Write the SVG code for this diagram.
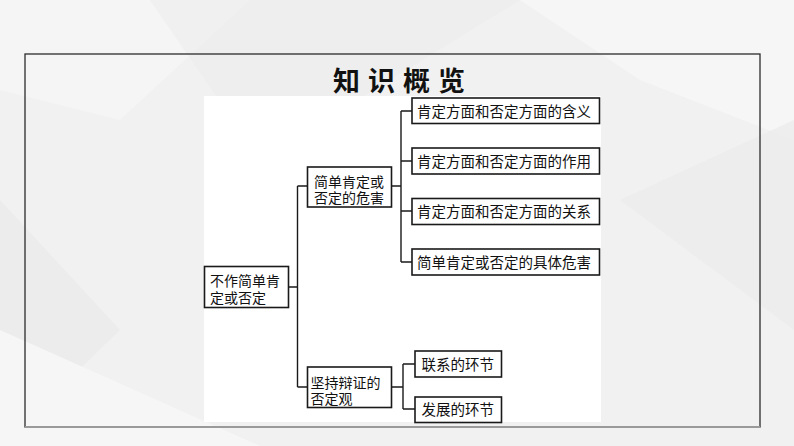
<svg xmlns="http://www.w3.org/2000/svg" width="794" height="446" viewBox="0 0 794 446">
<style>
.bx{fill:#fff;stroke:#1a1a1a;stroke-width:1.6}
.t{font-family:"Liberation Serif","Noto Sans CJK SC",serif;font-size:14.5px;fill:#111}
.t2{font-family:"Liberation Serif","Noto Sans CJK SC",serif;font-size:14px;fill:#111}
.ln{fill:none;stroke:#1a1a1a;stroke-width:1.4}
</style>
<rect x="0" y="0" width="794" height="446" fill="#f1f1f1"/>
<polygon points="0,0 250,0 120,120 0,90" fill="#f5f5f5"/>
<polygon points="150,0 520,0 260,160" fill="#ececec" opacity="0.6"/>
<polygon points="520,0 794,0 794,140 640,80" fill="#f6f6f6"/>
<polygon points="0,200 120,330 0,446" fill="#e9e9e9" opacity="0.7"/>
<polygon points="620,200 794,120 794,330" fill="#ebebeb" opacity="0.7"/>
<polygon points="0,330 260,446 0,446" fill="#f6f6f6"/>
<rect x="25" y="54" width="735" height="373" fill="none" stroke="#2b2b2b" stroke-width="1.3"/>
<line x1="25" y1="427" x2="760" y2="427" stroke="#9a9a9a" stroke-width="2"/>
<rect x="204" y="96" width="397" height="326" fill="#fff"/>
<text x="333" y="91" font-family="'Noto Sans CJK SC',sans-serif" font-size="27" font-weight="bold" letter-spacing="8" fill="#111">知识概览</text>
<g id="connectors">
<path class="ln" d="M289,287 H297.5 M297.5,186 V387 M297.5,186 H307 M297.5,387 H307"/>
<path class="ln" d="M391,186 H401 M401,111 V262 M401,111 H412 M401,161 H412 M401,211 H412 M401,262 H412"/>
<path class="ln" d="M391,387 H403 M403,364 V409 M403,364 H415 M403,409 H415"/>
</g>
<g id="root"><rect class="bx" x="204.5" y="266.5" width="84" height="41"/><text class="t2" x="210" y="286">不作简单肯</text><text class="t2" x="210" y="302.5">定或否定</text></g>
<g id="n1"><rect class="bx" x="307.5" y="167" width="84" height="40"/><text class="t2" x="314" y="186.5">简单肯定或</text><text class="t2" x="314" y="203">否定的危害</text></g>
<g id="n2"><rect class="bx" x="307.5" y="367" width="84" height="40.5"/><text class="t2" x="310.5" y="388">坚持辩证的</text><text class="t2" x="310.5" y="403.5">否定观</text></g>
<g id="r1"><rect class="bx" x="412" y="98" width="187.5" height="25.5"/><text class="t" x="417" y="116.5">肯定方面和否定方面的含义</text></g>
<g id="r2"><rect class="bx" x="412" y="148" width="187.5" height="26"/><text class="t" x="417" y="166.5">肯定方面和否定方面的作用</text></g>
<g id="r3"><rect class="bx" x="412" y="198.5" width="187.5" height="26"/><text class="t" x="417" y="217">肯定方面和否定方面的关系</text></g>
<g id="r4"><rect class="bx" x="412" y="249" width="187.5" height="26"/><text class="t" x="417" y="267.5">简单肯定或否定的具体危害</text></g>
<g id="s1"><rect class="bx" x="415" y="351" width="86.5" height="26"/><text class="t" x="421.5" y="369.5">联系的环节</text></g>
<g id="s2"><rect class="bx" x="415" y="397" width="86.5" height="25.5"/><text class="t" x="421.5" y="415">发展的环节</text></g>
</svg>
